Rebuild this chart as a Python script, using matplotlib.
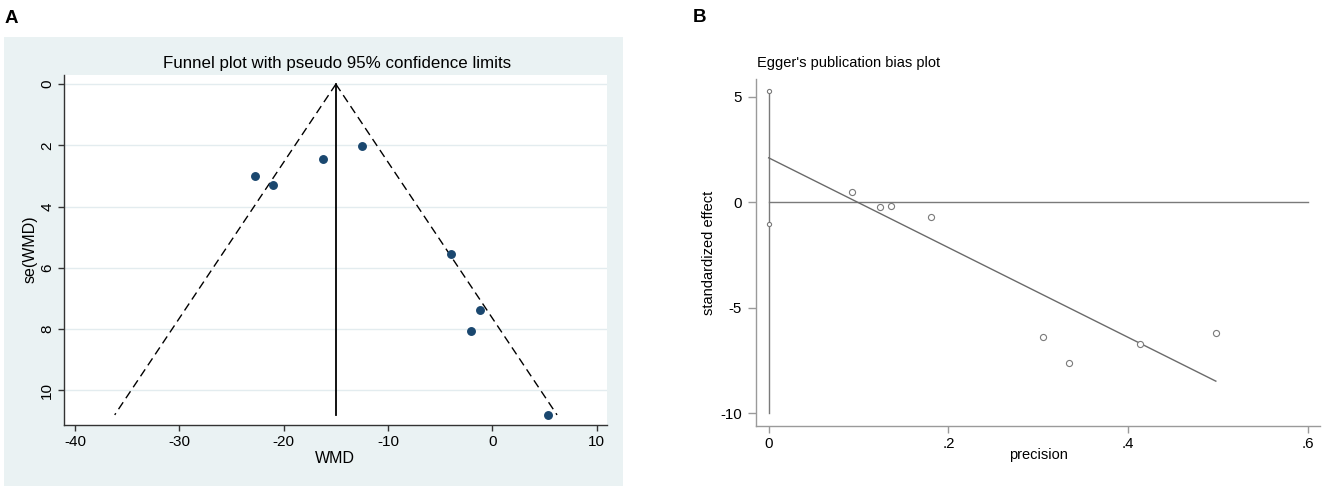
import matplotlib
matplotlib.use("Agg")
import matplotlib.pyplot as plt
from matplotlib.patches import Rectangle

plt.rcParams["font.family"] = ["Liberation Sans", "DejaVu Sans"]
plt.rcParams["axes.unicode_minus"] = False

W, H = 1325, 490

# Panel A: funnel plot
wmd = [-12.50, -16.27, -22.78, -20.99, -3.97, -1.19, -2.02, 5.32]
se_wmd = [2.01, 2.43, 2.99, 3.28, 5.55, 7.37, 8.05, 10.79]
pooled_wmd = -15.0
funnel_se = [0.0, 10.8]
funnel_left = [-15.0, -36.2]
funnel_right = [-15.0, 6.2]
a_xticks = [-40, -30, -20, -10, 0, 10]
a_yticks = [0, 2, 4, 6, 8, 10]

# Panel B: Egger's plot
precision = [0.0927, 0.1240, 0.1357, 0.1802, 0.3049, 0.3344, 0.4133, 0.4975]
std_effect = [0.49, -0.25, -0.16, -0.72, -6.40, -7.62, -6.72, -6.22]
ci_x = [0.0, 0.0]
ci_y = [-10.0, 5.25]
ci_marks = [5.25, -1.04]
egger_x = [0.0, 0.4975]
egger_y = [2.10, -8.48]
zero_x = [0.0, 0.6]
b_xticks = [0, 0.2, 0.4, 0.6]
b_xticklabels = ["0", ".2", ".4", ".6"]
b_yticks = [5, 0, -5, -10]


def fx(px):
    return px / W


def fy(py):
    return 1 - py / H


def axes_rect(left, top, right, bottom):
    return [fx(left), fy(bottom), (right - left) / W, (bottom - top) / H]


fig = plt.figure(figsize=(W / 100, H / 100), dpi=100)
fig.patch.set_facecolor("white")

# Stata-like light graph region behind panel A
fig.patches.append(Rectangle((fx(4), fy(486)), 619 / W, (486 - 36.7) / H,
                             transform=fig.transFigure, facecolor="#EAF2F3",
                             edgecolor="none", zorder=-1))

# ---- Panel A ----
ax = fig.add_axes(axes_rect(64, 75, 606.7, 425))
ax.set_zorder(1)
ax.set_facecolor("white")
ax.plot(funnel_left, funnel_se, color="black", lw=1.0, ls=(0, (6, 3.5)), zorder=2)
ax.plot(funnel_right, funnel_se, color="black", lw=1.0, ls=(0, (6, 3.5)), zorder=2)
ax.plot([pooled_wmd, pooled_wmd], funnel_se, color="black", lw=1.3, zorder=2)
ax.plot(wmd, se_wmd, "o", color="#1A476F", markersize=5.4, zorder=3)
ax.set_xlim(-41.06, 10.96)
ax.set_ylim(11.13, -0.30)
ax.set_xticks(a_xticks)
ax.set_yticks(a_yticks)
ax.yaxis.grid(True, color="#E3ECEF", lw=1.0)
ax.set_axisbelow(True)
for side in ("top", "right"):
    ax.spines[side].set_visible(False)
for side in ("left", "bottom"):
    ax.spines[side].set_color("#333333")
    ax.spines[side].set_linewidth(1.0)
ax.tick_params(axis="both", length=4.5, width=1, color="#333333", labelsize=11, pad=2.5)
ax.tick_params(axis="y", labelrotation=90)
for lab in ax.get_yticklabels():
    lab.set_va("center")

fig.text(fx(336.7), fy(67.7), "Funnel plot with pseudo 95% confidence limits",
         ha="center", va="baseline", fontsize=12.2)
fig.text(fx(335.3), fy(462.7), "WMD", ha="center", va="baseline", fontsize=11.5)
fig.text(fx(30), fy(249), "se(WMD)", ha="center", va="center", rotation=90, fontsize=11.5)
fig.text(fx(5), fy(22.7), "A", ha="left", va="baseline", fontsize=13.5, fontweight="bold")

# ---- Panel B ----
bx = fig.add_axes(axes_rect(756, 79.3, 1320, 425.7))
gray = "#7A7A7A"
bx.plot(ci_x, ci_y, color=gray, lw=1.0, zorder=2)
bx.plot([0, 0], ci_marks, "o", ms=3.0, mfc="white", mec=gray, mew=0.8, zorder=3)
bx.plot(zero_x, [0, 0], color=gray, lw=1.0, zorder=2)
bx.plot(egger_x, egger_y, color="#6A6A6A", lw=1.0, zorder=2)
bx.plot(precision, std_effect, "o", ms=4.4, mfc="white", mec=gray, mew=0.8, zorder=3)
bx.set_xlim(-0.0141, 0.6134)
bx.set_ylim(-10.59, 5.82)
bx.set_xticks(b_xticks)
bx.set_xticklabels(b_xticklabels)
bx.set_yticks(b_yticks)
for side in ("top", "right"):
    bx.spines[side].set_visible(False)
for side in ("left", "bottom"):
    bx.spines[side].set_color("#9A9A9A")
    bx.spines[side].set_linewidth(1.0)
bx.tick_params(axis="x", length=5, width=1, color="#9A9A9A", labelsize=10.8, pad=3)
bx.tick_params(axis="y", length=6, width=1, color="#9A9A9A", labelsize=10.8, pad=4)

fig.text(fx(756.7), fy(66.7), "Egger's publication bias plot",
         ha="left", va="baseline", fontsize=10.5)
fig.text(fx(1038), fy(459), "precision", ha="center", va="baseline", fontsize=10.5)
fig.text(fx(709), fy(252.5), "standardized effect", ha="center", va="center",
         rotation=90, fontsize=10.5)
fig.text(fx(692.7), fy(21.7), "B", ha="left", va="baseline", fontsize=13.5, fontweight="bold")

fig.savefig("out.png", dpi=100)
